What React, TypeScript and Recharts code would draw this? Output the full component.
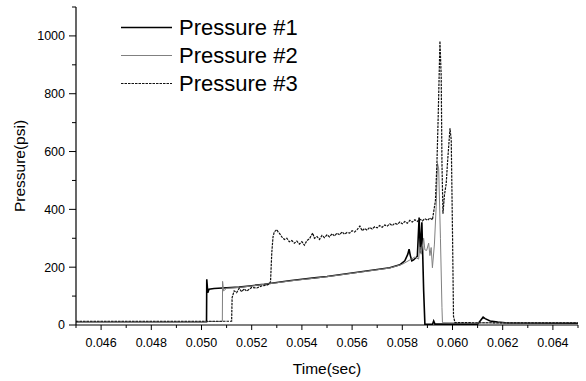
import React from 'react';
import { LineChart, Line, XAxis, YAxis, Legend } from 'recharts';

const FONT = '"Liberation Sans", Arial, sans-serif';

// Pressure #1 (thick black)
const p1Time = [0.045, 0.0502, 0.05021, 0.05025, 0.0503, 0.0505, 0.051, 0.0515, 0.052, 0.0525, 0.053, 0.0535, 0.054, 0.0545, 0.055, 0.0555, 0.056, 0.0565, 0.057, 0.0575, 0.0579, 0.0581, 0.05822, 0.05827, 0.05832, 0.05838, 0.05845, 0.0586, 0.05867, 0.05872, 0.05878, 0.05885, 0.0589, 0.0592, 0.05925, 0.0593, 0.061, 0.06122, 0.0613, 0.0615, 0.0618, 0.0622, 0.065];
const p1Value = [11, 11, 158, 112, 124, 126, 129, 131, 136, 141, 147, 153, 158, 163, 168, 174, 180, 186, 192, 198, 208, 222, 245, 262, 240, 222, 225, 238, 372, 250, 355, 120, 3, 2, 14, 3, 3, 27, 22, 14, 10, 7, 6];

// Pressure #2 (thin gray)
const p2Time = [0.045, 0.05083, 0.05084, 0.05088, 0.051, 0.0515, 0.052, 0.0525, 0.053, 0.0535, 0.054, 0.0545, 0.055, 0.0555, 0.056, 0.0565, 0.057, 0.0575, 0.058, 0.0583, 0.0585, 0.05865, 0.0587, 0.05875, 0.05885, 0.0589, 0.05897, 0.05905, 0.0591, 0.05915, 0.0592, 0.05928, 0.05935, 0.0594, 0.05945, 0.05952, 0.05958, 0.0596, 0.0605, 0.065];
const p2Value = [12, 12, 151, 118, 127, 130, 135, 141, 146, 152, 157, 162, 167, 173, 179, 185, 191, 197, 210, 225, 235, 228, 270, 245, 300, 260, 258, 283, 240, 268, 198, 280, 410, 560, 540, 300, 60, 8, 7, 8];

// Pressure #3 (dashed)
const p3Time = [0.045, 0.0512, 0.05122, 0.0513, 0.0514, 0.0515, 0.0516, 0.0517, 0.0518, 0.052, 0.0522, 0.0524, 0.0526, 0.0527, 0.05275, 0.0528, 0.05285, 0.0529, 0.053, 0.05305, 0.0531, 0.0532, 0.0533, 0.0534, 0.0535, 0.0536, 0.0537, 0.0538, 0.0539, 0.054, 0.0541, 0.0542, 0.0543, 0.05443, 0.0545, 0.0546, 0.0547, 0.0548, 0.0549, 0.055, 0.0551, 0.0552, 0.0553, 0.0554, 0.0555, 0.0556, 0.0557, 0.0558, 0.0559, 0.056, 0.0561, 0.0562, 0.05631, 0.0564, 0.0565, 0.0566, 0.0567, 0.0568, 0.0569, 0.057, 0.0571, 0.0572, 0.0573, 0.0574, 0.0575, 0.0576, 0.0577, 0.0578, 0.0579, 0.058, 0.0581, 0.0582, 0.0583, 0.0584, 0.0585, 0.0586, 0.0587, 0.0588, 0.0589, 0.059, 0.0591, 0.0592, 0.05932, 0.05938, 0.05943, 0.0595, 0.05955, 0.05958, 0.05962, 0.05968, 0.05975, 0.0598, 0.0599, 0.05995, 0.06, 0.06004, 0.0601, 0.065];
const p3Value = [13, 13, 95, 118, 112, 127, 115, 125, 117, 130, 128, 135, 138, 142, 150, 250, 305, 322, 330, 322, 318, 305, 296, 300, 288, 292, 283, 290, 280, 288, 276, 292, 298, 318, 300, 306, 296, 310, 302, 312, 305, 316, 308, 318, 312, 322, 314, 320, 318, 326, 322, 330, 342, 326, 334, 328, 338, 332, 340, 336, 344, 338, 346, 342, 350, 344, 352, 348, 356, 350, 358, 352, 362, 356, 364, 358, 366, 360, 368, 362, 370, 364, 430, 560, 720, 982, 860, 560, 385, 450, 490, 560, 680, 640, 320, 30, 8, 7];

const xTicks = [0.045, 0.046, 0.047, 0.048, 0.049, 0.05, 0.051, 0.052, 0.053, 0.054, 0.055, 0.056, 0.057, 0.058, 0.059, 0.06, 0.061, 0.062, 0.063, 0.064, 0.065];
const xMajorTicks = [0.046, 0.048, 0.05, 0.052, 0.054, 0.056, 0.058, 0.06, 0.062, 0.064];
const yTicks = [0, 100, 200, 300, 400, 500, 600, 700, 800, 900, 1000, 1100];
const yMajorTicks = [0, 200, 400, 600, 800, 1000];

const toRows = (ts: number[], vs: number[]) => ts.map((t, i) => ({ t, v: vs[i] }));

const series = [
  { name: 'Pressure #1', data: toRows(p1Time, p1Value), color: '#000000', width: 1.6, dash: undefined as string | undefined },
  { name: 'Pressure #2', data: toRows(p2Time, p2Value), color: '#808080', width: 1, dash: undefined as string | undefined },
  { name: 'Pressure #3', data: toRows(p3Time, p3Value), color: '#111111', width: 1.2, dash: '2.5 1' },
];

const isIn = (arr: number[], v: number) => arr.some((m) => Math.abs(m - v) < 1e-7);

const XTick = (props: any) => {
  const { x, y, payload } = props;
  const major = isIn(xMajorTicks, payload.value);
  return (
    <g>
      <line x1={x} x2={x} y1={y} y2={y + (major ? 5 : 3)} stroke="#000" strokeWidth={1} />
      {major && (
        <text x={x} y={y + 22} textAnchor="middle" fontSize={12.5} fontFamily={FONT} fill="#000">
          {payload.value.toFixed(3)}
        </text>
      )}
    </g>
  );
};

const YTick = (props: any) => {
  const { x, y, payload } = props;
  const major = isIn(yMajorTicks, payload.value);
  return (
    <g>
      <line x1={x - (major ? 7 : 4)} x2={x} y1={y} y2={y} stroke="#000" strokeWidth={1} />
      {major && (
        <text x={x - 11} y={y} dy="0.35em" textAnchor="end" fontSize={12.5} fontFamily={FONT} fill="#000">
          {payload.value}
        </text>
      )}
    </g>
  );
};

const LegendContent = () => (
  <svg width={190} height={90} style={{ display: 'block' }}>
    {series.map((s, i) => (
      <g key={s.name}>
        <line x1={0} x2={51} y1={15.5 + i * 28} y2={15.5 + i * 28} stroke={s.color} strokeWidth={s.width} strokeDasharray={s.dash} />
        <text x={58} y={23 + i * 28} fontSize={22} fontFamily={FONT} fill="#000">
          {s.name}
        </text>
      </g>
    ))}
  </svg>
);

export default function App() {
  return (
    <div style={{ position: 'absolute', left: 0, top: 0 }}>
      <LineChart width={586} height={381} margin={{ top: 7, right: 8, left: 0, bottom: 0 }}>
        <XAxis
          dataKey="t"
          type="number"
          domain={[0.045, 0.065]}
          ticks={xTicks}
          interval={0}
          allowDataOverflow
          height={56}
          tickSize={0}
          tickMargin={0}
          tickLine={false}
          tick={<XTick />}
          axisLine={{ stroke: '#000', strokeWidth: 1.2 }}
          label={{ value: 'Time(sec)', position: 'insideBottom', offset: 7, style: { fontSize: 15.5, fontFamily: FONT, fill: '#000' } }}
        />
        <YAxis
          type="number"
          domain={[0, 1100]}
          ticks={yTicks}
          interval={0}
          allowDataOverflow
          width={76}
          tickSize={0}
          tickMargin={0}
          tickLine={false}
          tick={<YTick />}
          axisLine={{ stroke: '#000', strokeWidth: 1.2 }}
          label={{ value: 'Pressure(psi)', angle: -90, position: 'insideLeft', offset: 19, style: { textAnchor: 'middle', fontSize: 15.5, fontFamily: FONT, fill: '#000' } }}
        />
        <Legend
          layout="vertical"
          align="center"
          verticalAlign="middle"
          wrapperStyle={{ left: 121, top: 12, width: 190, height: 90 }}
          content={<LegendContent />}
        />
        {series.map((s) => (
          <Line
            key={s.name}
            data={s.data}
            dataKey="v"
            name={s.name}
            type="linear"
            stroke={s.color}
            strokeWidth={s.width}
            strokeDasharray={s.dash}
            dot={false}
            activeDot={false}
            isAnimationActive={false}
          />
        ))}
      </LineChart>
    </div>
  );
}
